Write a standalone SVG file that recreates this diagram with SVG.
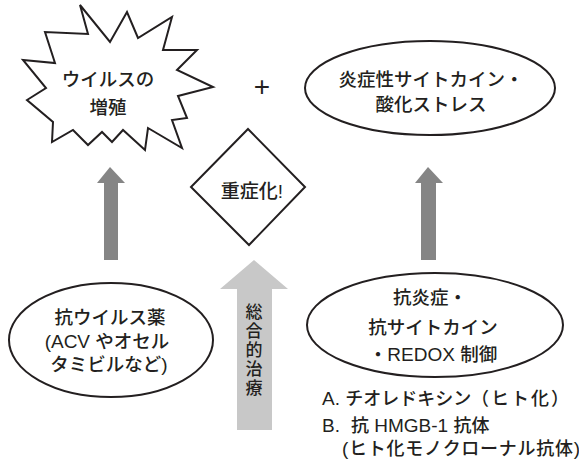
<svg xmlns="http://www.w3.org/2000/svg" width="579" height="463" viewBox="0 0 579 463">
<style>
.shape{fill:#fff;stroke:#231f20;stroke-width:2;stroke-linejoin:miter}
.t{font-family:"Liberation Sans","Noto Sans CJK JP",sans-serif;font-weight:500;fill:#231f20;font-size:18.5px;text-anchor:middle}
.s{text-anchor:start;font-size:18px}
.v{font-size:17px}
.lat{font-size:19px}
.plus{font-size:28px;font-weight:400}
.dark{fill:#858585}
.light{fill:#c8c8c8}
</style>
<rect width="579" height="463" fill="#fff"/>
<g id="connectors">
  <polygon class="dark" points="110,167 125,183 118,183 118,260 104,260 104,183 97,183"/>
  <polygon class="dark" points="428,167 443,183 436,183 436,260 421,260 421,183 415,183"/>
  <g id="total-treatment">
    <polygon class="light" points="254,260 288,289 272,289 272,430 237,430 237,289 220,289"/>
    <text class="t v" x="254" y="318">総</text>
    <text class="t v" x="254" y="337">合</text>
    <text class="t v" x="254" y="356">的</text>
    <text class="t v" x="254" y="375">治</text>
    <text class="t v" x="254" y="394">療</text>
  </g>
</g>
<g id="virus">
  <polygon class="shape" points="80,5 110,42 127,12 138,38 172,17 163,50 197,50 177,70 213,87 178,96 187,118 172,120 182,148 148,128 145,150 123,130 112,142 102,132 88,145 73,130 52,142 53,122 27,100 46,88 23,60 55,63 45,32 88,34"/>
  <text class="t" x="108" y="86">ウイルスの</text>
  <text class="t" x="108" y="114">増殖</text>
</g>
<g id="plus">
  <text class="t plus" x="262" y="96">+</text>
</g>
<g id="cytokine">
  <ellipse class="shape" cx="430" cy="88" rx="125" ry="47"/>
  <text class="t" x="431" y="86">炎症性サイトカイン・</text>
  <text class="t" x="431" y="111">酸化ストレス</text>
</g>
<g id="severe">
  <polygon class="shape" points="248,129 305,187 249,245 191,187"/>
  <text class="t" x="252" y="198" style="font-size:19px">重症化<tspan class="lat">!</tspan></text>
</g>
<g id="antiviral">
  <ellipse class="shape" cx="111" cy="340" rx="102" ry="57"/>
  <text class="t" x="110" y="324">抗ウイルス薬</text>
  <text class="t" x="107" y="348"><tspan class="lat">(ACV </tspan>やオセル</text>
  <text class="t" x="109" y="371">タミビルなど<tspan class="lat">)</tspan></text>
</g>
<g id="antiinflammatory">
  <ellipse class="shape" cx="435" cy="325" rx="128" ry="52"/>
  <text class="t" x="430" y="304">抗炎症・</text>
  <text class="t" x="433" y="334">抗サイトカイン</text>
  <text class="t" x="433" y="361">・<tspan class="lat">REDOX </tspan>制御</text>
</g>
<g id="agents">
  <text class="t s" x="322" y="405"><tspan class="lat">A. </tspan>チオレドキシン<tspan x="471" letter-spacing="2">（ヒト化）</tspan></text>
  <text class="t s" x="322" y="432"><tspan class="lat">B.</tspan><tspan dx="11">抗</tspan><tspan class="lat"> HMGB-1 </tspan>抗体</text>
  <text class="t s" x="342" y="455" textLength="238" lengthAdjust="spacing"><tspan class="lat">(</tspan>ヒト化モノクローナル抗体<tspan class="lat">)</tspan></text>
</g>
</svg>
